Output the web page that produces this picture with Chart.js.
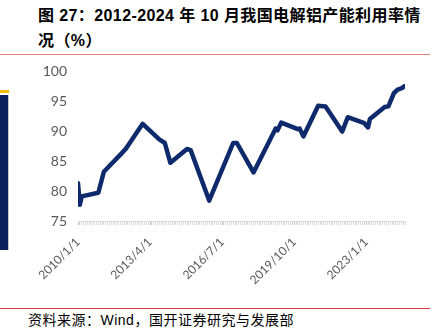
<!DOCTYPE html>
<html>
<head>
<meta charset="utf-8">
<script src="https://cdn.jsdelivr.net/npm/chart.js@4"></script>
<style>
  html, body { margin: 0; padding: 0; background: #fff; }
  body { width: 447px; height: 332px; position: relative; overflow: hidden; }
  .title { position: absolute; left: 38px; top: 3px; font: bold 16px "Liberation Sans", "Noto Sans CJK SC", sans-serif; line-height: 25px; letter-spacing: 0.4px; color: #000; white-space: nowrap; }
  .rule-top { position: absolute; left: 0; top: 54px; width: 430px; height: 1px; background: #e57c7e; }
  .rule-bottom { position: absolute; left: 0; top: 308px; width: 430px; height: 1px; background: #d43a3a; }
  .source { position: absolute; left: 28px; top: 311px; font: 14px "Liberation Sans", "Noto Sans CJK SC", sans-serif; line-height: 18px; letter-spacing: 0.5px; color: #000; white-space: nowrap; }
  .tab-bar { position: absolute; left: 0; top: 90px; width: 9px; height: 3px; background: #f6b800; }
  .tab { position: absolute; left: 0; top: 95px; width: 8px; height: 155px; background: #0b1f5c; border-right: 1px solid #c8c8c8; }
  canvas { position: absolute; left: 0; top: 0; }
</style>
</head>
<body>
<div class="title">图 27：2012-2024 年 10 月我国电解铝产能利用率情<br>况（%）</div>
<div class="rule-top"></div>
<div class="tab-bar"></div>
<div class="tab"></div>
<canvas id="chart" width="447" height="300"></canvas>
<div class="rule-bottom"></div>
<div class="source">资料来源：Wind，国开证券研究与发展部</div>
<script>
const months = ["2010-01","2010-02","2010-03","2010-12","2011-03","2012-01","2012-03","2012-12",
  "2013-09","2013-12","2014-03","2014-12","2015-02","2015-12","2017-01","2017-03","2017-12",
  "2018-12","2019-01","2019-03","2019-12","2020-01","2020-03","2020-11","2021-03","2021-12",
  "2022-03","2022-12","2023-02","2023-03","2023-11","2024-01","2024-04","2024-06","2024-08","2024-10"];
const utilization = [81.3,77.7,79.1,79.7,83.2,86.4,87.1,91.2,
  88.6,88.0,84.7,87.0,86.8,78.4,88.0,88.0,83.1,
  90.4,90.1,91.4,90.3,90.4,89.1,94.2,94.1,89.9,
  92.3,91.3,90.6,92.0,94.0,94.1,96.3,96.9,97.1,97.5];
const tickLabels = ["2010/1/1","2013/4/1","2016/7/1","2019/10/1","2023/1/1"];
const tickMonths = ["2010-01","2013-04","2016-07","2019-10","2023-01"];
const lastMonth = "2024-10";

const monthIndex = s => { const [y, m] = s.split("-").map(Number); return (y - 2010) * 12 + (m - 1); };
const maxIdx = monthIndex(lastMonth);
const labelAt = {};
tickMonths.forEach((m, i) => { labelAt[monthIndex(m)] = tickLabels[i]; });

new Chart(document.getElementById("chart"), {
  type: "line",
  data: {
    datasets: [{
      data: months.map((m, i) => ({x: monthIndex(m), y: utilization[i]})),
      borderColor: "#0f2a6c", borderWidth: 4.5, pointRadius: 0, tension: 0,
      borderJoinStyle: "round", borderCapStyle: "round"
    }]
  },
  options: {
    responsive: false, animation: false,
    layout: {padding: {top: 71, right: 42, left: 0, bottom: 0}},
    plugins: {legend: {display: false}, tooltip: {enabled: false}},
    scales: {
      x: {
        type: "linear", min: 0, max: maxIdx,
        afterBuildTicks: s => { s.ticks = Array.from({length: maxIdx + 1}, (_, i) => ({value: i})); },
        afterFit: s => { s.height = 79; },
        border: {color: "#d9d9d9"},
        grid: {drawOnChartArea: false, drawTicks: true, tickLength: 4,
               tickColor: c => (c.tick && labelAt[c.tick.value]) ? "#bfbfbf" : "#dcdcdc"},
        ticks: {autoSkip: false, minRotation: 45, maxRotation: 45, padding: 10,
                color: "#595959", font: {family: "Lato", size: 12},
                callback: v => labelAt[v] || ""}
      },
      y: {
        min: 75, max: 100,
        afterFit: s => { s.width = 78; },
        border: {display: false},
        grid: {display: false, drawTicks: false},
        ticks: {stepSize: 5, padding: 11, color: "#595959", font: {family: "Lato", size: 14}}
      }
    }
  }
});
</script>
</body>
</html>
